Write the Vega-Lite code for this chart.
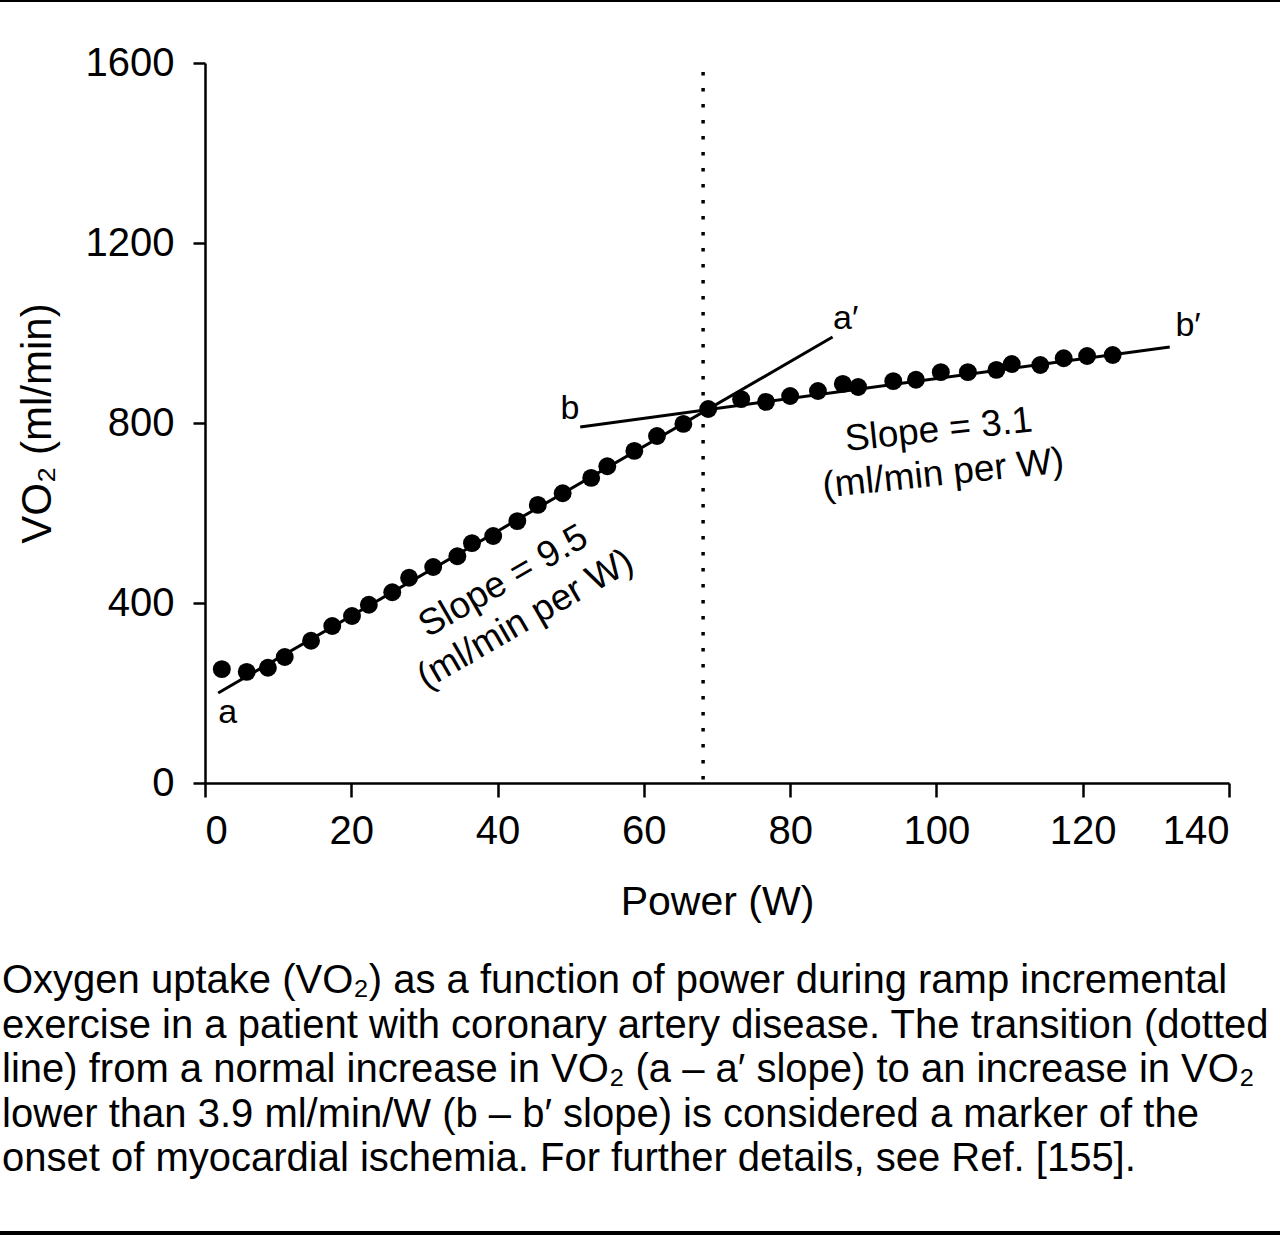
{
  "$schema": "https://vega.github.io/schema/vega-lite/v6.json",
  "width": 1024,
  "height": 720,
  "autosize": "none",
  "padding": {"left": 205, "top": 63, "right": 51, "bottom": 453},
  "background": "white",
  "title": {
    "text": [
      "Oxygen uptake (VO₂) as a function of power during ramp incremental",
      "exercise in a patient with coronary artery disease. The transition (dotted",
      "line) from a normal increase in VO₂ (a – a′ slope) to an increase in VO₂",
      "lower than 3.9 ml/min/W (b – b′ slope) is considered a marker of the",
      "onset of myocardial ischemia. For further details, see Ref. [155]."
    ],
    "orient": "bottom",
    "anchor": "start",
    "frame": "group",
    "baseline": "alphabetic",
    "dx": -203,
    "dy": -242,
    "offset": 0,
    "font": "Liberation Sans",
    "fontSize": 40,
    "fontWeight": "normal",
    "lineHeight": 44.5,
    "color": "black"
  },
  "config": {
    "view": {"stroke": null},
    "axis": {
      "grid": false,
      "domainColor": "black",
      "domainWidth": 2.5,
      "tickColor": "black",
      "tickWidth": 2.5,
      "labelColor": "black",
      "titleColor": "black",
      "titleFontWeight": "normal",
      "labelFont": "Liberation Sans",
      "titleFont": "Liberation Sans"
    }
  },
  "datasets": {
    "points": [
      {"power": 2.3, "vo2": 253}, {"power": 5.7, "vo2": 247}, {"power": 8.6, "vo2": 256},
      {"power": 10.9, "vo2": 280}, {"power": 14.5, "vo2": 316}, {"power": 17.4, "vo2": 349},
      {"power": 20.1, "vo2": 371}, {"power": 22.4, "vo2": 396}, {"power": 25.6, "vo2": 424},
      {"power": 27.9, "vo2": 456}, {"power": 31.2, "vo2": 480}, {"power": 34.5, "vo2": 504},
      {"power": 36.5, "vo2": 533}, {"power": 39.4, "vo2": 549}, {"power": 42.7, "vo2": 582},
      {"power": 45.5, "vo2": 618}, {"power": 48.9, "vo2": 644}, {"power": 52.8, "vo2": 678},
      {"power": 55.0, "vo2": 704}, {"power": 58.7, "vo2": 738}, {"power": 61.8, "vo2": 771},
      {"power": 65.4, "vo2": 798}, {"power": 68.8, "vo2": 831}, {"power": 73.3, "vo2": 853},
      {"power": 76.7, "vo2": 847}, {"power": 80.0, "vo2": 860}, {"power": 83.8, "vo2": 871},
      {"power": 87.2, "vo2": 887}, {"power": 89.3, "vo2": 880}, {"power": 94.1, "vo2": 893},
      {"power": 97.2, "vo2": 896}, {"power": 100.6, "vo2": 913}, {"power": 104.3, "vo2": 913},
      {"power": 108.2, "vo2": 918}, {"power": 110.3, "vo2": 931}, {"power": 114.2, "vo2": 929},
      {"power": 117.4, "vo2": 944}, {"power": 120.6, "vo2": 949}, {"power": 124.1, "vo2": 951}
    ],
    "fits": [
      {"fit": "a", "power": 1.8, "vo2": 200},
      {"fit": "a", "power": 85.8, "vo2": 991},
      {"fit": "b", "power": 51.3, "vo2": 791},
      {"fit": "b", "power": 131.9, "vo2": 969}
    ],
    "labels": [
      {"label": "a", "power": 3.1, "vo2": 156},
      {"label": "a′", "power": 87.6, "vo2": 1032},
      {"label": "b", "power": 49.9, "vo2": 832},
      {"label": "b′", "power": 134.4, "vo2": 1016}
    ],
    "threshold": [
      {"power": 68.1, "top": 1580}
    ],
    "slopes": [
      {"power": 40.8, "vo2": 448, "angle": -30, "lines": ["Slope = 9.5", "(ml/min per W)"]},
      {"power": 100.3, "vo2": 784, "angle": -6, "lines": ["Slope = 3.1", "(ml/min per W)"]}
    ]
  },
  "layer": [
    {
      "data": {"name": "threshold"},
      "mark": {"type": "rule", "color": "black", "strokeWidth": 3.5, "strokeDash": [3.5, 12.5]},
      "encoding": {
        "x": {"field": "power", "type": "quantitative"},
        "y": {"field": "top", "type": "quantitative"},
        "y2": {"datum": 0}
      }
    },
    {
      "data": {"name": "fits"},
      "mark": {"type": "line", "color": "black", "strokeWidth": 3},
      "encoding": {
        "x": {"field": "power", "type": "quantitative"},
        "y": {"field": "vo2", "type": "quantitative"},
        "detail": {"field": "fit", "type": "nominal"}
      }
    },
    {
      "data": {"name": "points"},
      "mark": {"type": "circle", "color": "black", "opacity": 1, "size": 320},
      "encoding": {
        "x": {
          "field": "power",
          "type": "quantitative",
          "scale": {"domain": [0, 140], "nice": false},
          "axis": {
            "values": [0, 20, 40, 60, 80, 100, 120, 140],
            "tickSize": 14,
            "labelPadding": 14,
            "labelFontSize": 40,
            "titleFontSize": 41,
            "titlePadding": 31
          },
          "title": "Power (W)"
        },
        "y": {
          "field": "vo2",
          "type": "quantitative",
          "scale": {"domain": [0, 1600], "nice": false},
          "axis": {
            "values": [0, 400, 800, 1200, 1600],
            "format": "d",
            "tickSize": 12,
            "labelPadding": 19,
            "labelFontSize": 40,
            "titleFontSize": 42,
            "titlePadding": 26
          },
          "title": "VO₂ (ml/min)"
        }
      }
    },
    {
      "data": {"name": "labels"},
      "mark": {"type": "text", "font": "Liberation Sans", "fontSize": 34, "color": "black"},
      "encoding": {
        "x": {"field": "power", "type": "quantitative"},
        "y": {"field": "vo2", "type": "quantitative"},
        "text": {"field": "label", "type": "nominal"}
      }
    },
    {
      "data": {"name": "slopes"},
      "mark": {"type": "text", "font": "Liberation Sans", "fontSize": 37, "color": "black", "lineHeight": 44, "baseline": "middle"},
      "encoding": {
        "x": {"field": "power", "type": "quantitative"},
        "y": {"field": "vo2", "type": "quantitative"},
        "angle": {"field": "angle", "type": "quantitative", "scale": null},
        "text": {"field": "lines", "type": "nominal"}
      }
    },
    {
      "data": {"values": [{}]},
      "mark": {"type": "rule", "color": "black", "strokeWidth": 2, "clip": false},
      "encoding": {
        "x": {"datum": -28.1, "type": "quantitative"},
        "x2": {"datum": 147.1},
        "y": {"datum": 1738, "type": "quantitative"}
      }
    },
    {
      "data": {"values": [{}]},
      "mark": {"type": "rule", "color": "black", "strokeWidth": 4, "clip": false},
      "encoding": {
        "x": {"datum": -28.1, "type": "quantitative"},
        "x2": {"datum": 147.1},
        "y": {"datum": -1000, "type": "quantitative"}
      }
    }
  ]
}
